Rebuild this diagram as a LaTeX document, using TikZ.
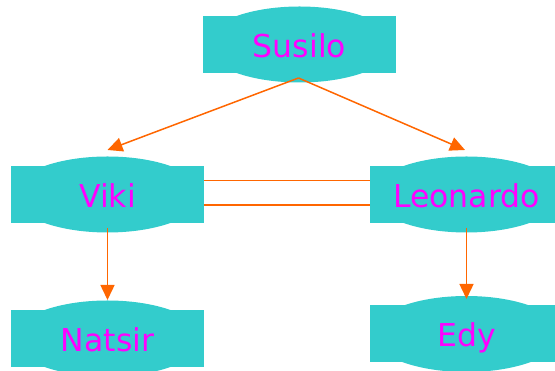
\documentclass[tikz,border=0pt]{standalone}
\usepackage{fontspec}
\setmainfont{DejaVu Sans}
\usetikzlibrary{arrows.meta,backgrounds}
\definecolor{boxcyan}{HTML}{33CCCC}
\definecolor{linkorange}{HTML}{FF6600}
\definecolor{namemagenta}{HTML}{FF00FF}
\begin{document}
\begin{tikzpicture}[x=1pt,y=1pt,
  person/.style={fill=boxcyan, minimum width=193pt, minimum height=57pt,
    inner sep=0pt, text=namemagenta, font=\fontsize{31.5}{31.5}\selectfont,
    text height=26pt, text depth=0pt},
  link/.style={linkorange, line width=1.5pt, -{Triangle[length=15pt,width=14pt]}},
  tie/.style={linkorange, line width=1.5pt}]
  \useasboundingbox (0,0) rectangle (555,371);
  \node[person] (susilo) at (299.5,326.5) {Susilo};
  \node[person] (viki) at (107.5,176.5) {Viki};
  \node[person] (leonardo) at (466.5,176.5) {Leonardo};
  \node[person] (natsir) at (107.5,32.5) {Natsir};
  \node[person] (edy) at (466.5,37) {Edy};
  \begin{scope}[on background layer]
    \foreach \n in {susilo,viki,leonardo,natsir,edy}
      \fill[boxcyan] (\n.center) ellipse[x radius=95pt, y radius=38pt];
  \end{scope}
  \draw[link] ([xshift=-1pt,yshift=-33.5pt]susilo.center) -- ([yshift=44.5pt]viki.center);
  \draw[link] ([xshift=-1pt,yshift=-33.5pt]susilo.center) -- ([xshift=-1.5pt,yshift=44.5pt]leonardo.center);
  \draw[tie] ([yshift=14pt]viki.east) -- ([yshift=14pt]leonardo.west);
  \draw[tie] ([yshift=-10.5pt]viki.east) -- ([yshift=-10.5pt]leonardo.west);
  \draw[link] ([yshift=-33.5pt]viki.center) -- ([yshift=38.5pt]natsir.center);
  \draw[link] ([yshift=-33.5pt]leonardo.center) -- ([yshift=35pt]edy.center);
\end{tikzpicture}
\end{document}
